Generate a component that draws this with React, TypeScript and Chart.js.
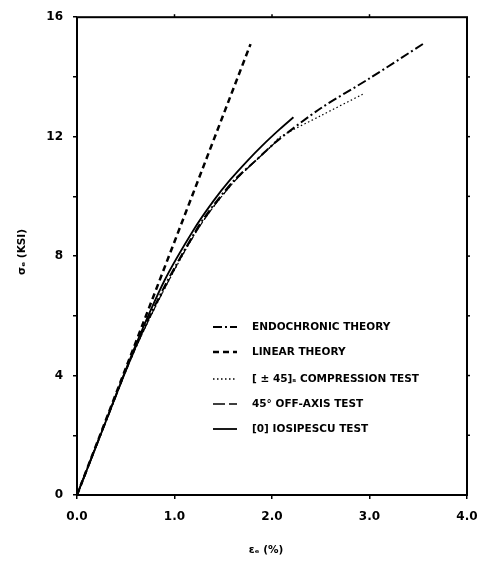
import React, { useEffect, useRef } from "react";
import { Chart, registerables } from "chart.js";

Chart.register(...registerables);

// Data
const endoX = [0, 0.3, 0.6, 0.9, 1.2, 1.33, 1.6, 1.85, 2.05, 2.5, 3.0, 3.57];
const endoY = [0, 2.5, 4.95, 7.0, 8.75, 9.4, 10.5, 11.25, 11.85, 12.95, 13.95, 15.15];

const linearX = [0, 1.78];
const linearY = [0, 15.1];

const compX = [0, 0.6, 1.2, 1.6, 2.0, 2.08, 2.5, 2.93];
const compY = [0, 4.9, 8.7, 10.45, 11.7, 11.98, 12.7, 13.42];

const offAxisX = [0, 0.6, 1.0, 1.3, 1.6, 1.9, 2.05];
const offAxisY = [0, 4.9, 7.55, 9.2, 10.45, 11.4, 11.85];

const iosiX = [0, 0.3, 0.6, 0.9, 1.2, 1.4, 1.57, 1.75, 1.9, 2.08, 2.22];
const iosiY = [0, 2.5, 5.0, 7.2, 8.9, 9.85, 10.55, 11.2, 11.7, 12.25, 12.65];

const seriesLabels = [
  "ENDOCHRONIC THEORY",
  "LINEAR THEORY",
  "[ \u00b1 45]\u209b COMPRESSION TEST",
  "45\u00b0 OFF-AXIS TEST",
  "[0] IOSIPESCU TEST",
];

const xTicks = [0, 1, 2, 3, 4];
const yTicks = [0, 4, 8, 12, 16];
const xTitle = "\u03b5\u2091 (%)";
const yTitle = "\u03c3\u2091 (KSI)";

const toPts = (xs: number[], ys: number[]) => xs.map((x, i) => ({ x, y: ys[i] }));

const FONT = "'DejaVu Sans', sans-serif";

export default function App() {
  const ref = useRef<HTMLCanvasElement | null>(null);

  useEffect(() => {
    document.body.style.margin = "0";
    const canvas = ref.current;
    if (!canvas) return;

    const frame = {
      id: "frame",
      afterDraw(chart: any) {
        const { ctx, chartArea: a, scales } = chart;
        ctx.save();
        ctx.strokeStyle = "#000";
        ctx.lineWidth = 2;
        ctx.setLineDash([]);
        ctx.strokeRect(a.left, a.top, a.right - a.left, a.bottom - a.top);
        // right side ticks
        ctx.lineWidth = 1.5;
        for (let v = 2; v < 16; v += 2) {
          const y = scales.y.getPixelForValue(v);
          ctx.beginPath();
          ctx.moveTo(a.right, y);
          ctx.lineTo(a.right + 3, y);
          ctx.stroke();
        }
        // top ticks
        for (let v = 1; v < 4; v += 1) {
          const x = scales.x.getPixelForValue(v);
          ctx.beginPath();
          ctx.moveTo(x, a.top);
          ctx.lineTo(x, a.top - 3);
          ctx.stroke();
        }
        // legend
        const lx0 = 213, lx1 = 237, tx = 252;
        const rows = [327, 352, 379, 404, 429];
        chart.data.datasets.forEach((ds: any, i: number) => {
          const y = rows[i];
          ctx.save();
          ctx.strokeStyle = "#000";
          ctx.lineWidth = Math.max(ds.borderWidth, 1.5);
          ctx.setLineDash(ds.borderDash || []);
          ctx.beginPath();
          ctx.moveTo(lx0, y);
          ctx.lineTo(lx1, y);
          ctx.stroke();
          ctx.restore();
          ctx.fillStyle = "#000";
          ctx.font = `bold 10.5px ${FONT}`;
          ctx.textBaseline = "middle";
          ctx.textAlign = "left";
          ctx.fillText(ds.label, tx, y);
        });
        // axis titles
        ctx.fillStyle = "#000";
        ctx.font = `bold 10.5px ${FONT}`;
        ctx.textAlign = "center";
        ctx.textBaseline = "middle";
        ctx.fillText(xTitle, 266, 550);
        ctx.save();
        ctx.translate(22, 252);
        ctx.rotate(-Math.PI / 2);
        ctx.fillText(yTitle, 0, 0);
        ctx.restore();
        ctx.restore();
      },
    };

    const chart = new Chart(canvas, {
      type: "scatter",
      data: {
        datasets: [
          { label: seriesLabels[0], data: toPts(endoX, endoY), borderDash: [9, 3, 2, 3], borderWidth: 2 },
          { label: seriesLabels[1], data: toPts(linearX, linearY), borderDash: [6, 4], borderWidth: 2.5 },
          { label: seriesLabels[2], data: toPts(compX, compY), borderDash: [1.5, 2.5], borderWidth: 1.2 },
          { label: seriesLabels[3], data: toPts(offAxisX, offAxisY), borderDash: [12, 4], borderWidth: 1.2 },
          { label: seriesLabels[4], data: toPts(iosiX, iosiY), borderDash: [], borderWidth: 1.8 },
        ].map((d) => ({
          ...d,
          showLine: true,
          borderColor: "#000",
          backgroundColor: "#000",
          pointRadius: 0,
          tension: 0.3,
          fill: false,
        })),
      },
      options: {
        responsive: false,
        animation: false,
        layout: { padding: { left: 0, top: 10, right: 22, bottom: 0 } },
        plugins: { legend: { display: false }, tooltip: { enabled: false } },
        scales: {
          x: {
            type: "linear",
            min: 0,
            max: 4,
            afterFit: (s: any) => { s.height = 66; },
            afterBuildTicks: (s: any) => { s.ticks = xTicks.map((v) => ({ value: v })); },
            ticks: {
              color: "#000",
              padding: 11,
              font: { family: FONT, size: 12, weight: "bold" },
              callback: (v: any) => Number(v).toFixed(1),
            },
            grid: { drawOnChartArea: false, drawTicks: true, tickLength: 4, color: "#000", lineWidth: 1.5 },
            border: { display: false },
          },
          y: {
            type: "linear",
            min: 0,
            max: 16,
            afterFit: (s: any) => { s.width = 77; },
            afterBuildTicks: (s: any) => {
              const t: any[] = [];
              for (let v = 0; v <= 16; v += 2) t.push({ value: v });
              s.ticks = t;
            },
            ticks: {
              color: "#000",
              padding: 10,
              font: { family: FONT, size: 12, weight: "bold" },
              callback: (v: any) => (yTicks.includes(Number(v)) ? String(v) : ""),
            },
            grid: { drawOnChartArea: false, drawTicks: true, tickLength: 4, color: "#000", lineWidth: 1.5 },
            border: { display: false },
          },
        },
      },
      plugins: [frame],
    } as any);

    return () => chart.destroy();
  }, []);

  return (
    <div style={{ width: 489, height: 561, background: "#fff" }}>
      <canvas ref={ref} width={489} height={561} style={{ display: "block" }} />
    </div>
  );
}
